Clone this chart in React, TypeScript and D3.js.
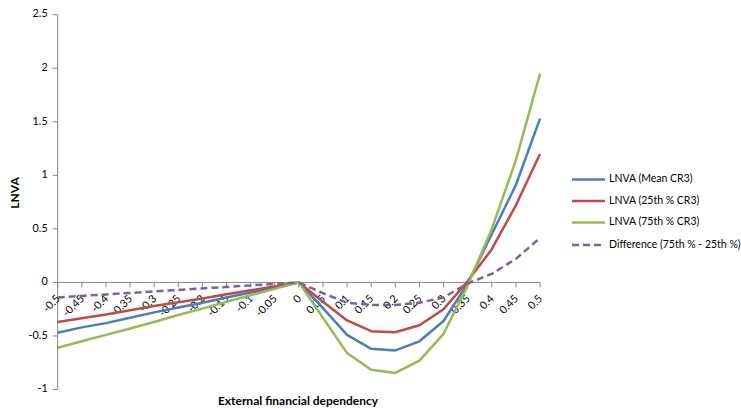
import * as d3 from "d3";
import React from "react";

const categories = [
  "-0.5", "-0.45", "-0.4", "-0.35", "-0.3", "-0.25", "-0.2", "-0.15", "-0.1", "-0.05", "0",
  "0.05", "0.1", "0.15", "0.2", "0.25", "0.3", "0.35", "0.4", "0.45", "0.5",
];
const meanCR3 = [
  -0.47, -0.42, -0.38, -0.33, -0.28, -0.235, -0.19, -0.14, -0.095, -0.047, 0,
  -0.24, -0.49, -0.62, -0.635, -0.55, -0.36, -0.01, 0.45, 0.91, 1.53,
];
const p25CR3 = [
  -0.37, -0.335, -0.3, -0.26, -0.22, -0.185, -0.15, -0.11, -0.074, -0.037, 0,
  -0.18, -0.355, -0.455, -0.465, -0.4, -0.25, 0.01, 0.31, 0.72, 1.2,
];
const p75CR3 = [
  -0.61, -0.55, -0.49, -0.43, -0.37, -0.305, -0.245, -0.18, -0.12, -0.06, 0,
  -0.33, -0.66, -0.815, -0.845, -0.73, -0.48, -0.03, 0.5, 1.14, 1.95,
];
const diff = [
  -0.14, -0.126, -0.112, -0.098, -0.084, -0.07, -0.056, -0.042, -0.028, -0.014, 0,
  -0.1, -0.19, -0.21, -0.21, -0.19, -0.14, -0.01, 0.08, 0.22, 0.415,
];
const yTicks = [-1, -0.5, 0, 0.5, 1, 1.5, 2, 2.5];

const series = [
  { name: "LNVA (Mean CR3)", values: meanCR3, color: "#4a7ebb", dash: undefined as string | undefined },
  { name: "LNVA (25th % CR3)", values: p25CR3, color: "#be4b48", dash: undefined },
  { name: "LNVA (75th % CR3)", values: p75CR3, color: "#98b954", dash: undefined },
  { name: "Difference (75th % - 25th %)", values: diff, color: "#7d60a0", dash: "7 4" },
];

const W = 741, H = 409;
const m = { left: 57.7, right: 201, top: 14.7, bottom: 20 };
const font = "Lato, 'Open Sans', sans-serif";

export default function App() {
  const x = d3.scalePoint<string>().domain(categories).range([m.left, W - m.right]);
  const y = d3.scaleLinear().domain([-1, 2.5]).range([389.5, m.top]);
  const line = d3.line<number>().x((_, i) => x(categories[i])!).y(d => y(d));
  const y0 = y(0);

  return (
    <svg width={W} height={H} style={{ position: "absolute", left: 0, top: 0, background: "#fff" }}
      fontFamily={font}>
      {/* y axis */}
      <line x1={m.left} x2={m.left} y1={y(2.5)} y2={y(-1)} stroke="#868686" />
      {yTicks.map(t => (
        <g key={t}>
          <line x1={m.left - 5} x2={m.left} y1={y(t)} y2={y(t)} stroke="#868686" />
          <text x={m.left - 10} y={y(t)} textAnchor="end" dominantBaseline="middle" fontSize={10.8} fill="#000">{t}</text>
        </g>
      ))}
      {/* x axis */}
      <line x1={m.left} x2={W - m.right} y1={y0} y2={y0} stroke="#868686" />
      {categories.map(c => (
        <line key={c} x1={x(c)} x2={x(c)} y1={y0} y2={y0 + 5} stroke="#868686" />
      ))}
      {categories.map(c => (
        <text key={c} transform={`translate(${x(c)! + 3},${y0 + 17}) rotate(-45)`} textAnchor="end"
          fontSize={10.8} fill="#000">{c}</text>
      ))}

      {series.map(s => (
        <path key={s.name} d={line(s.values) ?? undefined} fill="none" stroke={s.color} strokeWidth={2.5}
          strokeDasharray={s.dash} strokeLinejoin="round" />
      ))}

      {/* legend */}
      {series.map((s, i) => {
        const ly = [179.5, 201, 222.5, 245][i];
        return (
          <g key={s.name}>
            <line x1={572} x2={605} y1={ly} y2={ly} stroke={s.color} strokeWidth={2.5} strokeDasharray={s.dash} />
            <text x={609} y={ly} dominantBaseline="middle" fontSize={10.5} fill="#000">{s.name}</text>
          </g>
        );
      })}

      <text transform={`translate(18.5,193) rotate(-90)`} textAnchor="middle"
        fontSize={12} fontWeight="bold" fill="#000">LNVA</text>
      <text x={298} y={405} textAnchor="middle" fontSize={12} fontWeight="bold" fill="#000">
        External financial dependency
      </text>
    </svg>
  );
}
